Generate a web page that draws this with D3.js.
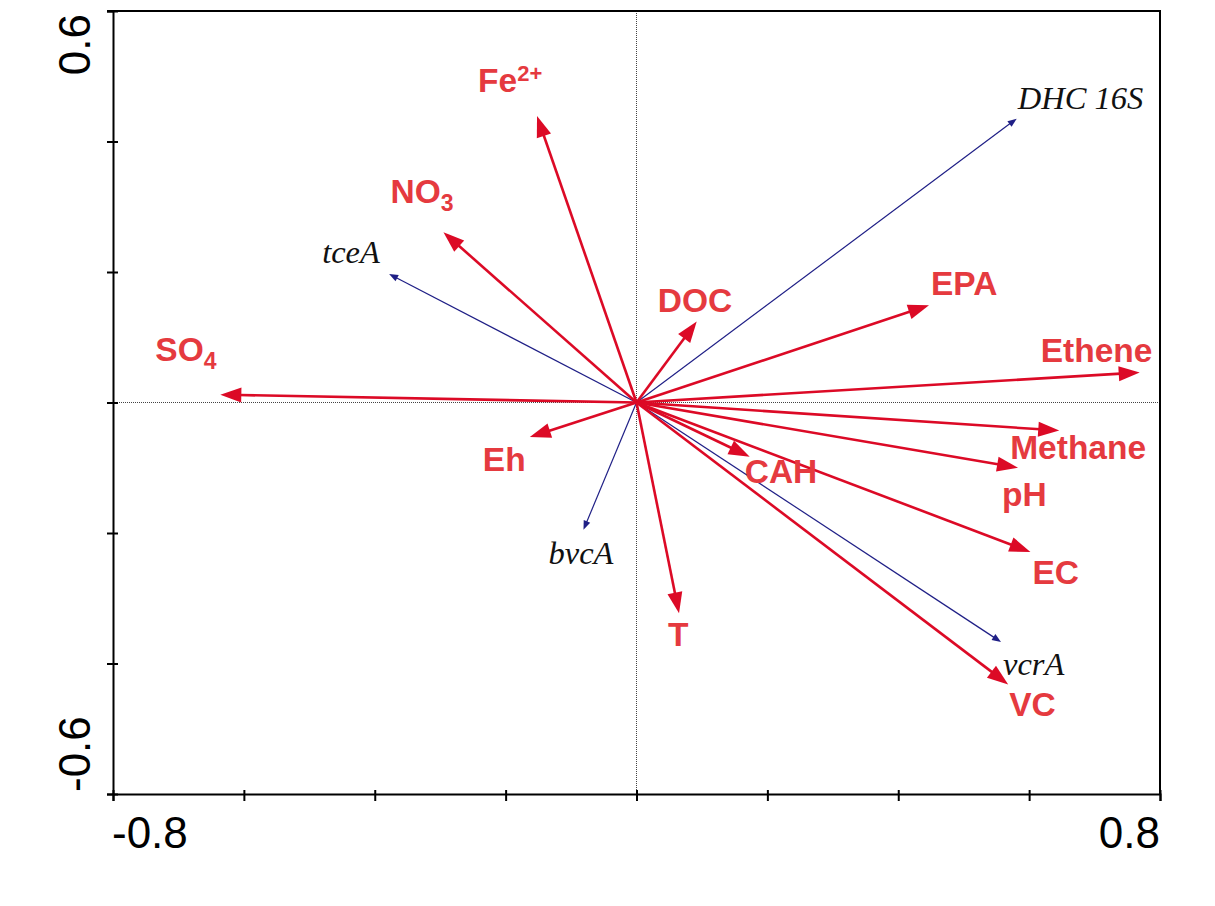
<!DOCTYPE html>
<html>
<head>
<meta charset="utf-8">
<script src="https://cdn.jsdelivr.net/npm/d3@7"></script>
<style>
  body { margin: 0; background: #fff; }
  .env-label { font-family: "Liberation Sans", Arial, sans-serif; font-weight: bold; fill: #e53a3f; }
  .gene-label { font-family: "Liberation Serif", "Times New Roman", serif; font-style: italic; fill: #111; }
  .tick-label { font-family: "Liberation Sans", Arial, sans-serif; font-size: 44px; fill: #000; }
</style>
</head>
<body>
<svg id="chart"></svg>
<script>
//biplot data (ordination scores)
var envNames = ["SO_4", "NO_3", "Fe^2+", "Eh", "DOC", "EPA", "Ethene", "Methane", "pH", "CAH", "EC", "VC", "T"];
var envX = [-0.636, -0.295, -0.152, -0.163, 0.092, 0.447, 0.769, 0.646, 0.583, 0.173, 0.602, 0.568, 0.065];
var envY = [0.012, 0.261, 0.439, -0.053, 0.124, 0.149, 0.046, -0.043, -0.100, -0.083, -0.229, -0.432, -0.323];

var geneNames = ["tceA", "DHC 16S", "bvcA", "vcrA"];
var geneX = [-0.378, 0.581, -0.081, 0.557];
var geneY = [0.197, 0.435, -0.195, -0.367];

var xTicks = [-0.8, -0.6, -0.4, -0.2, 0, 0.2, 0.4, 0.6, 0.8];
var yTicks = [-0.6, -0.4, -0.2, 0, 0.2, 0.4, 0.6];
var xTickLabels = ["-0.8", "0.8"];
var yTickLabels = ["-0.6", "0.6"];

//label placement, pixels from the arrow tip
var envLabelOffset = [[-65,-34],[-53,-29],[-59,-24],[-47,34],[-39,-10],[2,-10],[-99,-10],[-49,28],[-16,38],[-5,26],[2,32],[1,32],[-11,33]];
var geneLabelOffset = [[-67,-11],[1,-10],[-35,34],[2,33]];

var margin = {top: 11, right: 55, bottom: 112, left: 113},
    width = 1215 - margin.left - margin.right,
    height = 906 - margin.top - margin.bottom;

var svg = d3.select("#chart")
    .attr("width", 1215)
    .attr("height", 906);

var chart = svg.append("g")
    .attr("transform", "translate(" + margin.left + "," + margin.top + ")");

var x = d3.scaleLinear().domain([-0.8, 0.8]).range([0, width]);
var y = d3.scaleLinear().domain([-0.6, 0.6]).range([height, 0]);

//dotted zero lines
chart.append("line")
    .attr("x1", x(0)).attr("x2", x(0)).attr("y1", 0).attr("y2", height)
    .attr("stroke", "#444").attr("stroke-width", 1).attr("stroke-dasharray", "1,1");
chart.append("line")
    .attr("x1", 0).attr("x2", width).attr("y1", y(0)).attr("y2", y(0))
    .attr("stroke", "#444").attr("stroke-width", 1).attr("stroke-dasharray", "1,1");

//frame top/right
chart.append("path")
    .attr("d", "M" + (-6) + "," + y(0.6) + "H" + x(0.8) + "V" + y(-0.6))
    .attr("fill", "none").attr("stroke", "#000").attr("stroke-width", 2);

var xAxis = d3.axisBottom(x).tickValues(xTicks).tickSize(7)
    .tickFormat(function(d) { return ""; });
var yAxis = d3.axisLeft(y).tickValues(yTicks).tickSize(6)
    .tickFormat(function(d) { return ""; });

var gx = chart.append("g")
    .attr("transform", "translate(0," + height + ")")
    .call(xAxis);
gx.selectAll(".tick line").attr("y1", -4).attr("stroke-width", 2);
gx.select(".domain").attr("stroke-width", 2);

var gy = chart.append("g").call(yAxis);
gy.selectAll(".tick line").attr("x1", 5).attr("stroke-width", 2);
gy.select(".domain").attr("stroke-width", 2);

//end tick labels
chart.append("text").attr("class", "tick-label")
    .attr("x", x(-0.8) - 1).attr("y", height + 54)
    .attr("text-anchor", "start").text(xTickLabels[0]);
chart.append("text").attr("class", "tick-label")
    .attr("x", x(0.8)).attr("y", height + 54)
    .attr("text-anchor", "end").text(xTickLabels[1]);
chart.append("text").attr("class", "tick-label")
    .attr("transform", "translate(-23," + (y(-0.6) - 2) + ") rotate(-90)")
    .attr("text-anchor", "start").text(yTickLabels[0]);
chart.append("text").attr("class", "tick-label")
    .attr("transform", "translate(-23," + (y(0.6) + 3) + ") rotate(-90)")
    .attr("text-anchor", "end").text(yTickLabels[1]);

function drawArrow(g, vx, vy, color, lw, headL, headW)
{
	var x0 = x(0), y0 = y(0), tx = x(vx), ty = y(vy);
	var len = Math.sqrt((tx - x0) * (tx - x0) + (ty - y0) * (ty - y0));
	var ux = (tx - x0) / len, uy = (ty - y0) / len;
	var bx = tx - ux * headL, by = ty - uy * headL;
	g.append("line")
		.attr("x1", x0).attr("y1", y0).attr("x2", bx + ux * 2).attr("y2", by + uy * 2)
		.attr("stroke", color).attr("stroke-width", lw);
	g.append("path")
		.attr("d", "M" + tx + "," + ty +
			"L" + (bx - uy * headW) + "," + (by + ux * headW) +
			"L" + (bx + uy * headW) + "," + (by - ux * headW) + "Z")
		.attr("fill", color);
}

function addLabel(g, name, px, py, cls, size)
{
	var t = g.append("text").attr("class", cls)
		.attr("x", px).attr("y", py)
		.style("font-size", size + "px");
	var m = name.match(/^([^_^]+)([_^])?(.*)$/);
	t.append("tspan").text(m[1]);
	if(m[2] == "_")
		t.append("tspan").attr("dy", 8).style("font-size", "23px").text(m[3]);
	else if(m[2] == "^")
		t.append("tspan").attr("dy", -11).style("font-size", "22px").text(m[3]);
}

var genes = chart.append("g");
geneNames.forEach(function(n, i)
	{
		drawArrow(genes, geneX[i], geneY[i], "#1f1f86", 1.2, 9, 3.5);
		addLabel(genes, n, x(geneX[i]) + geneLabelOffset[i][0], y(geneY[i]) + geneLabelOffset[i][1], "gene-label", 32.5);
	});

var env = chart.append("g");
envNames.forEach(function(n, i)
	{
		drawArrow(env, envX[i], envY[i], "#dc0a26", 2.6, 21, 7.5);
	});
envNames.forEach(function(n, i)
	{
		addLabel(env, n, x(envX[i]) + envLabelOffset[i][0], y(envY[i]) + envLabelOffset[i][1], "env-label", 33.5);
	});
</script>
</body>
</html>
